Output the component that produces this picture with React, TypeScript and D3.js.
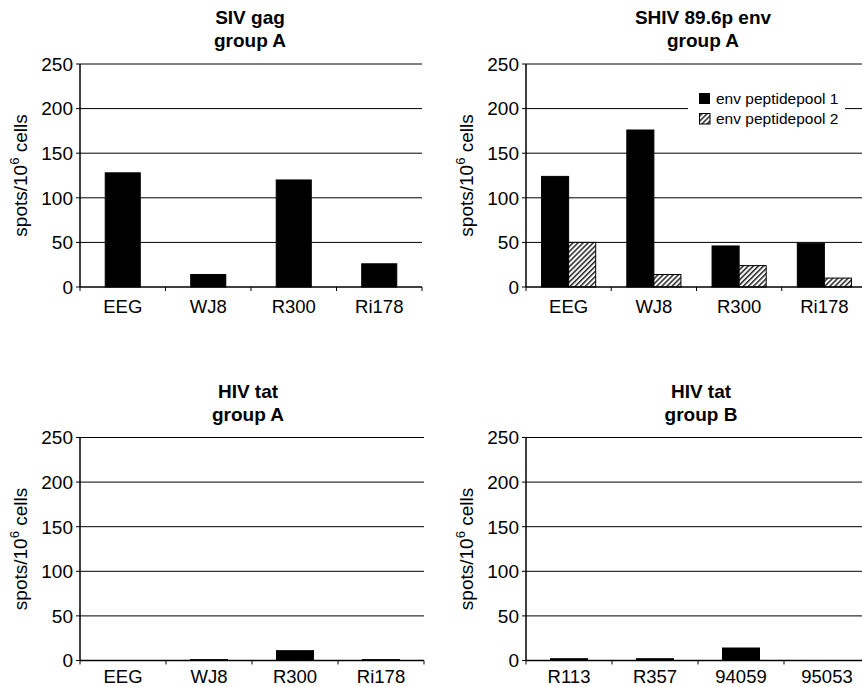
import * as d3 from 'd3';

// chart data
const groupACategories = ['EEG', 'WJ8', 'R300', 'Ri178'];
const groupBCategories = ['R113', 'R357', '94059', '95053'];
const sivGagValues = [128, 14, 120, 26];
const envPool1Values = [124, 176, 46, 49];
const envPool2Values = [50, 14, 24, 10];
const tatGroupAValues = [0, 1, 11, 1];
const tatGroupBValues = [2, 2, 14, 0];
const yTicks = [0, 50, 100, 150, 200, 250];
const legendLabels = ['env peptidepool 1', 'env peptidepool 2'];

const FONT = "'Liberation Sans', Arial, Helvetica, sans-serif";

type Series = { values: number[]; fill: string };

type PanelProps = {
  title: string[];
  titleX: number;
  categories: string[];
  series: Series[];
  x0: number;
  x1: number;
  yTop: number;
  yZero: number;
  barFrac: number;
  labelOffset: number;
  legend?: boolean;
};

const Panel = ({ title, titleX, categories, series, x0, x1, yTop, yZero, barFrac, labelOffset, legend }: PanelProps) => {
  const x = d3.scaleBand<string>().domain(categories).range([x0, x1]).padding(0);
  const y = d3.scaleLinear().domain([0, 250]).range([yZero, yTop]);
  const bw = x.bandwidth();
  const groupW = bw * barFrac;
  const sub = d3
    .scaleBand<number>()
    .domain(series.map((_, i) => i))
    .range([0, groupW])
    .padding(0);

  const bounds = [...categories.map((c) => x(c) as number), x1];

  return (
    <g>
      {/* title */}
      <text x={titleX} y={yTop - 40} textAnchor="middle" fontSize={19} fontWeight="bold">
        {title[0]}
      </text>
      <text x={titleX} y={yTop - 17} textAnchor="middle" fontSize={19} fontWeight="bold">
        {title[1]}
      </text>

      {/* gridlines */}
      {yTicks.filter((t) => t > 0).map((t) => (
        <line key={t} x1={x0} x2={x1} y1={y(t)} y2={y(t)} stroke="#000" strokeWidth={1} />
      ))}

      {/* bars */}
      {categories.map((c, ci) => {
        const gx = (x(c) as number) + (bw - groupW) / 2;
        return series.map((s, si) => {
          const v = s.values[ci];
          if (v <= 0) return null;
          return (
            <rect
              key={c + si}
              x={gx + (sub(si) as number)}
              y={y(v)}
              width={sub.bandwidth()}
              height={yZero - y(v)}
              fill={s.fill}
              stroke="#000"
              strokeWidth={1}
            />
          );
        });
      })}

      {/* axes */}
      <line x1={x0} x2={x0} y1={yTop} y2={yZero} stroke="#000" strokeWidth={1.5} />
      <line x1={x0} x2={x1} y1={yZero} y2={yZero} stroke="#000" strokeWidth={1.5} />
      {yTicks.map((t) => (
        <g key={t}>
          <line x1={x0 - 4} x2={x0} y1={y(t)} y2={y(t)} stroke="#000" strokeWidth={1} />
          <text x={x0 - 7} y={y(t)} dy="0.36em" textAnchor="end" fontSize={19}>
            {t}
          </text>
        </g>
      ))}
      {bounds.map((b, i) => (
        <line key={i} x1={b} x2={b} y1={yZero} y2={yZero + 4} stroke="#000" strokeWidth={1} />
      ))}
      {categories.map((c) => (
        <text key={c} x={(x(c) as number) + bw / 2} y={yZero + labelOffset} textAnchor="middle" fontSize={18.5}>
          {c}
        </text>
      ))}

      {/* y label */}
      <text
        transform={`translate(${x0 - 53},${(yTop + yZero) / 2}) rotate(-90)`}
        textAnchor="middle"
        fontSize={19}
      >
        spots/10
        <tspan fontSize={13} dy={-8}>6</tspan>
        <tspan dy={8}> cells</tspan>
      </text>

      {legend && (
        <g>
          <rect x={688} y={86} width={157} height={42} fill="#fff" />
          <rect x={699} y={93} width={11} height={11} fill="#000" />
          <rect x={699.5} y={113.5} width={10.5} height={10.5} fill="url(#hatch)" stroke="#000" strokeWidth={1} />
          <text x={716} y={104} fontSize={15.5}>{legendLabels[0]}</text>
          <text x={716} y={124} fontSize={15.5}>{legendLabels[1]}</text>
        </g>
      )}
    </g>
  );
};

export default function App() {
  return (
    <div style={{ position: 'absolute', left: 0, top: 0, background: '#fff' }}>
      <svg width={862} height={687} style={{ display: 'block', fontFamily: FONT }}>
        <defs>
          <pattern id="hatch" patternUnits="userSpaceOnUse" width={3.6} height={3.6} patternTransform="rotate(45)">
            <rect width={3.6} height={3.6} fill="#fff" />
            <line x1={0.8} y1={0} x2={0.8} y2={3.6} stroke="#000" strokeWidth={1.3} />
          </pattern>
        </defs>
        <rect width={862} height={687} fill="#fff" />

        <Panel
          title={['SIV gag', 'group A']}
          titleX={250}
          categories={groupACategories}
          series={[{ values: sivGagValues, fill: '#000' }]}
          x0={80}
          x1={422}
          yTop={64}
          yZero={287}
          barFrac={0.41}
          labelOffset={26}
        />
        <Panel
          title={['SHIV 89.6p env', 'group A']}
          titleX={703}
          categories={groupACategories}
          series={[
            { values: envPool1Values, fill: '#000' },
            { values: envPool2Values, fill: 'url(#hatch)' },
          ]}
          x0={526}
          x1={867}
          yTop={64}
          yZero={287}
          barFrac={0.635}
          labelOffset={26}
          legend
        />
        <Panel
          title={['HIV tat', 'group A']}
          titleX={248}
          categories={groupACategories}
          series={[{ values: tatGroupAValues, fill: '#000' }]}
          x0={80}
          x1={424}
          yTop={437.5}
          yZero={660.5}
          barFrac={0.43}
          labelOffset={22}
        />
        <Panel
          title={['HIV tat', 'group B']}
          titleX={701}
          categories={groupBCategories}
          series={[{ values: tatGroupBValues, fill: '#000' }]}
          x0={526}
          x1={870}
          yTop={437.5}
          yZero={660.5}
          barFrac={0.43}
          labelOffset={22}
        />
      </svg>
    </div>
  );
}
